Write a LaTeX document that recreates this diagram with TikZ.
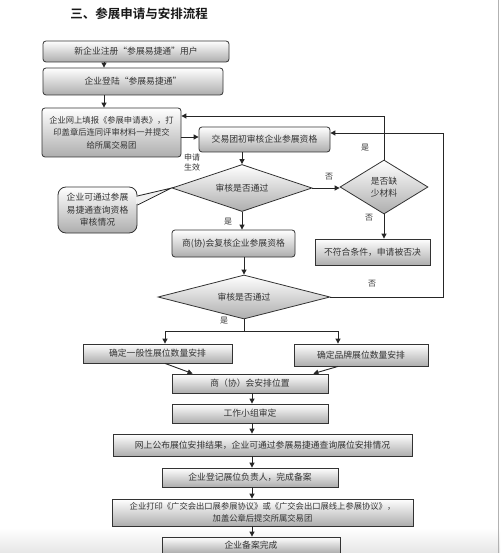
\documentclass[tikz,border=0pt]{standalone}
\usepackage{fontspec}
\IfFontExistsTF{Noto Sans CJK SC Bold}
  {\setmainfont{Noto Sans CJK SC}[BoldFont={Noto Sans CJK SC Bold}]}
  {\setmainfont{Noto Sans CJK SC}[AutoFakeBold=2]}
\usetikzlibrary{arrows.meta,shapes.geometric,calc}
\tikzset{
  base/.style={draw=black!80, line width=0.8pt, top color=white, bottom color=black!32,
    text=black!80, font=\fontsize{8.8}{12.5}\selectfont, inner sep=0pt, align=center},
  sqbox/.style={base},
  rbox/.style={base, rounded corners=3pt},
  dia/.style={base, diamond, aspect=3},
  arr/.style={-{Triangle[length=5pt,width=5pt]}, line width=0.9pt, draw=black!85},
  ln/.style={line width=0.9pt, draw=black!85},
  lbl/.style={text=black!80, font=\fontsize{8}{10}\selectfont, inner sep=0pt, align=center}
}
\begin{document}
\begin{tikzpicture}[x=1pt,y=-1pt]
\useasboundingbox (0,0) rectangle (500,553);
\fill[white] (0,0) rectangle (500,553);
\shade[top color=white, bottom color=black!10] (0,528) rectangle (500,553);
\draw[black!30, line width=1pt] (498.5,0) -- (498.5,553);

\node[text=black!90, font=\fontsize{12.5}{14}\selectfont\bfseries, inner sep=0pt] (title) at (139,14) {三、参展申请与安排流程};

% boxes
\node[rbox, minimum width=186pt, minimum height=21pt] (b1) at (136,51.5) {新企业注册“参展易捷通”用户};
\node[rbox, minimum width=180pt, minimum height=27pt] (b2) at (133,81.5) {企业登陆“参展易捷通”};
\node[rbox, minimum width=139pt, minimum height=49pt, font=\fontsize{8.3}{12.5}\selectfont] (b3) at (111.5,132.5) {企业网上填报《参展申请表》，打\\印盖章后连同评审材料一并提交\\给所属交易团};
\node[rbox, minimum width=131pt, minimum height=25pt] (b4) at (264.5,139.5) {交易团初审核企业参展资格};
\node[dia, minimum width=140pt, minimum height=47pt] (d1) at (242,188) {审核是否通过};
\node[dia, aspect=1.6, minimum width=88pt, minimum height=54pt] (d2) at (384,187) {是否缺\\少材料};
\node[sqbox, minimum width=115pt, minimum height=26pt] (r) at (372.5,252) {不符合条件，申请被否决};
\node[rbox, minimum width=123pt, minimum height=27pt] (b5) at (233.5,243.5) {商(协)会复核企业参展资格};
\node[dia, minimum width=172pt, minimum height=44pt] (d3) at (244,297) {审核是否通过};

% callout
\fill[black!8] (134,196) -- (d1.west) -- (134,205) -- cycle;
\node[rbox, rounded corners=8pt, minimum width=79pt, minimum height=46pt] (c) at (97.5,210) {企业可通过参展\\易捷通查询资格\\审核情况};
\fill[black!6] (136.2,197) -- (d1.west) -- (136.2,204) -- cycle;
\draw[ln, line width=0.8pt] (c.east |- 0,196) -- (d1.west) -- (c.east |- 0,205);

\node[sqbox, minimum width=149pt, minimum height=19pt] (g1) at (157.5,353.5) {确定一般性展位数量安排};
\node[sqbox, minimum width=134pt, minimum height=22pt] (g2) at (361,355) {确定品牌展位数量安排};
\node[sqbox, minimum width=156pt, minimum height=19pt] (b6) at (250,383.5) {商（协）会安排位置};
\node[sqbox, minimum width=156pt, minimum height=19pt] (b7) at (250,413.5) {工作小组审定};
\node[sqbox, minimum width=299pt, minimum height=22pt] (b8) at (262.5,445) {网上公布展位安排结果，企业可通过参展易捷通查询展位安排情况};
\node[sqbox, minimum width=176pt, minimum height=19pt] (b9) at (250,477.5) {企业登记展位负责人，完成备案};
\node[sqbox, minimum width=301pt, minimum height=27pt, font=\fontsize{8.3}{12}\selectfont] (b10) at (262.5,512.5) {企业打印《广交会出口展参展协议》或《广交会出口展线上参展协议》，\\加盖公章后提交所属交易团};
\node[sqbox, minimum width=178pt, minimum height=16pt] (b11) at (251,545) {企业备案完成};

% helper coordinates
\coordinate (cA) at (104,0);
\coordinate (cB) at (252,0);
\coordinate (cR) at (443,0);
\coordinate (yIn) at (0,137);
\coordinate (yRet) at (0,116);
\coordinate (yLoop) at (0,133);
\coordinate (sp) at (244,331);
\coordinate (sL) at (165,331);
\coordinate (sR) at (338,331);

% connectors
\draw[arr] (b1.south -| cA) -- (b2.north -| cA);
\draw[arr] (b2.south -| cA) -- (b3.north -| cA);
\draw[arr] (b3.east |- yIn) -- (b4.west |- yIn);
\draw[arr] (b4.south -| d1.north) -- (d1.north);
\draw[arr] (d1.east) -- (d1.east -| d2.west);
\draw[arr] (d2.north) -- (d2.north |- yRet) -- (b3.east |- yRet);
\draw[arr] (d2.south) -- (d2.south |- r.north);
\draw[arr] (d1.south) -- (d1.south |- b5.north);
\draw[arr] (b5.south -| d3.north) -- (d3.north);
\draw[arr] (d3.east) -- (d3.east -| cR) -- (cR |- yLoop) -- (b4.east |- yLoop);
\draw[ln] (d3.south) -- (sp);
\draw[arr] (sp) -- (sL) -- (sL |- g1.north);
\draw[arr] (sp) -- (sR) -- (sR |- g2.north);
\draw[arr] (g1.south -| sL) -- ($(b6.north west)+(21,0)$);
\draw[arr] (g2.south -| sR) -- ($(b6.north east)+(-15,0)$);
\draw[arr] (b6.south -| cB) -- (b7.north -| cB);
\draw[arr] (b7.south -| cB) -- (b8.north -| cB);
\draw[arr] (b8.south -| cB) -- (b9.north -| cB);
\draw[arr] (b9.south -| cB) -- (b10.north -| cB);
\draw[arr] (b10.south -| cB) -- (b11.north -| cB);

% labels
\node[lbl] (l1) at (192,162) {申请\\生效};
\node[lbl] (l2) at (365,148) {是};
\node[lbl] (l3) at (329,177) {否};
\node[lbl] (l4) at (369,218) {否};
\node[lbl] (l5) at (228,222) {是};
\node[lbl] (l6) at (372,284) {否};
\node[lbl] (l7) at (224,321) {是};
\end{tikzpicture}
\end{document}
